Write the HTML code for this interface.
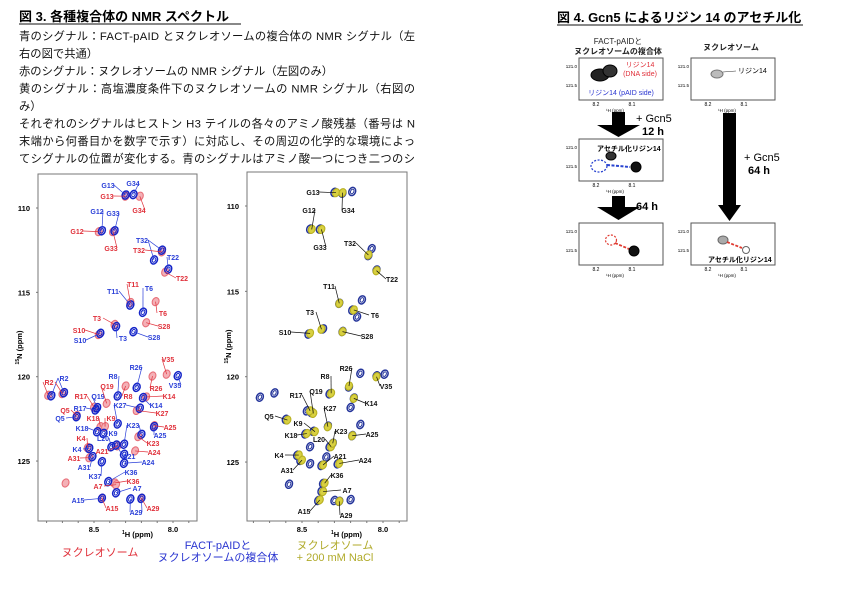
<!DOCTYPE html>
<html><head><meta charset="utf-8">
<style>
html,body{margin:0;padding:0;background:#fff;}
svg{display:block;font-family:"Liberation Sans","Noto Sans CJK JP",sans-serif;}
.body{font-size:11.3px;fill:#111;}
.lb{font-size:7px;font-weight:bold;}
</style></head>
<body>
<svg id="fig" width="845" height="593" viewBox="0 0 845 593">
<g>
<text x="19" y="21" font-size="13" font-weight="bold">図 3. 各種複合体の NMR スペクトル</text>
<line x1="19" y1="24" x2="241" y2="24" stroke="#111" stroke-width="1"/>
<text class="body" x="19" y="40" textLength="396">青のシグナル：FACT-pAID とヌクレオソームの複合体の NMR シグナル（左</text>
<text class="body" x="19" y="57.5">右の図で共通）</text>
<text class="body" x="19" y="75">赤のシグナル：ヌクレオソームの NMR シグナル（左図のみ）</text>
<text class="body" x="19" y="92.5" textLength="396">黄のシグナル：高塩濃度条件下のヌクレオソームの NMR シグナル（右図の</text>
<text class="body" x="19" y="110">み）</text>
<text class="body" x="19" y="127.5" textLength="396">それぞれのシグナルはヒストン H3 テイルの各々のアミノ酸残基（番号は N</text>
<text class="body" x="19" y="145" textLength="396">末端から何番目かを数字で示す）に対応し、その周辺の化学的な環境によっ</text>
<text class="body" x="19" y="162.5" textLength="396">てシグナルの位置が変化する。青のシグナルはアミノ酸一つにつき二つのシ</text>
</g>
<g id="left"></g>
<g id="right"></g>
<g font-size="11" text-anchor="middle">
<text x="100" y="556" fill="#e0303a">ヌクレオソーム</text>
<text x="218" y="549" fill="#2a35d0">FACT-pAIDと</text>
<text x="218" y="561" fill="#2a35d0">ヌクレオソームの複合体</text>
<text x="335" y="549" fill="#b0aa2a">ヌクレオソーム</text>
<text x="335" y="561" fill="#b0aa2a">+ 200 mM NaCl</text>
</g>

<g>
<text x="557" y="22" font-size="13" font-weight="bold">図 4. Gcn5 によるリジン 14 のアセチル化</text>
<line x1="557" y1="25" x2="803" y2="25" stroke="#111" stroke-width="1"/>
<g font-size="8" text-anchor="middle" fill="#222">
<text x="618" y="44">FACT-pAIDと</text>
<text x="618" y="54" font-weight="bold">ヌクレオソームの複合体</text>
<text x="731" y="50" font-weight="bold">ヌクレオソーム</text>
</g>
<g id="boxes"></g>
<g>
<rect x="612" y="112" width="13" height="14" fill="#000"/><polygon points="597,125 640,125 618.5,137" fill="#000"/>
<text x="636" y="122" font-size="11">+ Gcn5</text>
<text x="642" y="135" font-size="11" font-weight="bold">12 h</text>
</g>
<g>
<rect x="612" y="196" width="13" height="12" fill="#000"/><polygon points="597,207 640,207 618.5,220" fill="#000"/>
<text x="636" y="210" font-size="11" font-weight="bold">64 h</text>
</g>
<g>
<rect x="723" y="113" width="13" height="93" fill="#000"/><polygon points="718,205 741,205 729.5,221" fill="#000"/>
<text x="744" y="161" font-size="11">+ Gcn5</text>
<text x="748" y="174" font-size="11" font-weight="bold">64 h</text>
</g>
</g>
</svg>
<script>
// ---------- Data (ppm) ----------
const lbRes=["G13","G34","G12","G33","T32","T32","T22","T11","T6","T3","S28","S10","R2","R2","R26","R8","V35","Q19","K14","K27","K27","Q5","R17","K18","K9","L20","K23","K23","A25","A21","A21","A24","K4","A31","K37","K36","A7","A15","A29","A29"];
const lbH=[8.30,8.25,8.45,8.37,8.07,8.12,8.03,8.27,8.19,8.36,8.25,8.46,8.77,8.69,8.23,8.35,7.97,8.48,8.19,8.21,8.35,8.61,8.49,8.48,8.44,8.39,8.20,8.31,8.12,8.31,8.36,8.31,8.53,8.51,8.45,8.41,8.36,8.45,8.20,8.27];
const lbN=[109.23,109.2,111.35,111.35,112.5,113.08,113.63,115.75,116.18,117.03,117.33,117.43,121.13,120.95,120.63,121.14,119.94,121.84,121.24,121.87,122.8,122.37,121.97,123.26,123.36,124.15,123.42,124.0,122.96,124.6,124.05,125.13,124.25,124.74,125.04,126.22,126.88,127.21,127.21,127.25];
const lrRes=["G13","G34","G12","G33","T32","T22","T11","T6","T3","S28","S10","R2","R2","R26","R8","V35","Q19","K14","K27","Q5","R17","K18","K9","K23","A25","A21","A24","K4","A31","K36","A7","A15","A29","X1"];
const lrH=[8.30,8.21,8.47,8.38,8.07,8.05,8.27,8.11,8.37,8.17,8.47,8.79,8.70,8.13,8.30,8.04,8.42,8.17,8.23,8.61,8.50,8.46,8.43,8.22,8.12,8.35,8.24,8.54,8.53,8.37,8.36,8.45,8.20,8.68];
const lrN=[109.3,109.3,111.4,111.4,112.6,113.8,115.6,115.55,116.9,116.8,117.5,121.1,121.0,119.96,120.55,119.85,121.58,121.2,122.0,122.3,121.8,122.96,122.96,123.55,122.9,124.1,124.4,124.2,124.8,126.3,126.4,127.2,127.2,126.3];
const rbRes=["G13","G34","x","G12","G33","T32","T32","T22","T11","T6","T3","S28","S10","R26","R8","V35","Q19","R17","K14","K27","Q5","K9","K18","L20","K23","A25","K4","A31","A21","A24","K36","A7","A15","A29","x","x","x","x","x","x","x","x","x","x","x","x","x","x"];
const rbH=[8.30,8.25,8.19,8.45,8.39,8.09,8.07,8.04,8.27,8.19,8.37,8.25,8.46,8.21,8.33,8.04,8.44,8.47,8.18,8.34,8.60,8.43,8.48,8.33,8.31,8.19,8.53,8.51,8.38,8.28,8.37,8.38,8.40,8.27,8.67,8.76,8.58,8.14,7.99,8.13,8.16,8.14,8.20,8.45,8.45,8.35,8.20,8.30];
const rbN=[109.2,109.25,109.15,111.35,111.35,112.9,112.5,113.75,115.7,116.1,117.2,117.35,117.5,120.6,121.0,119.95,122.1,122.0,121.25,122.9,122.5,123.2,123.35,124.1,123.9,123.45,124.6,124.9,125.2,125.1,126.25,126.7,127.25,127.3,120.95,121.2,126.3,119.8,119.85,115.5,116.5,122.8,121.8,124.1,125.1,124.7,127.2,127.25];
const ryRes=["G13","G34","G12","G33","T32","T22","T11","T6","T3","S28","S10","R26","R8","V35","Q19","R17","K14","K27","Q5","K9","K18","L20","K23","A25","K4","A31","A21","A24","K36","A7","A15","A29"];
const ryH=[8.29,8.25,8.44,8.38,8.09,8.04,8.27,8.18,8.38,8.25,8.45,8.21,8.32,8.04,8.43,8.45,8.18,8.34,8.59,8.42,8.47,8.32,8.31,8.19,8.52,8.50,8.37,8.27,8.36,8.37,8.39,8.27];
const ryN=[109.22,109.22,111.37,111.37,112.87,113.79,115.7,116.09,117.22,117.36,117.46,120.55,120.97,120.0,122.15,122.0,121.27,122.93,122.54,123.22,123.33,124.1,123.9,123.46,124.59,124.89,125.17,125.08,126.24,126.73,127.22,127.3];
const yTicks=[110,115,120,125];
const xTicks=[8.5,8.0];
// ---------- Axes ----------
const xL=h=>94+(8.5-h)*158, yL=n=>208+(n-110)*16.87;
const xR=h=>302+(8.5-h)*162, yR=n=>206+(n-110)*17.07;
// ---------- Label layout (pixel) ----------
const lbLab={G13:[108,188],G34:[133,186],G12:[97,214],G33:[113,216],T32:[142,243],T22:[173,260],T11:[113,294],T6:[149,291],T3:[123,341],S28:[154,340],S10:[80,343],R2:[64,381],R26:[136,370],R8:[113,379],V35:[175,388],Q19:[98,399],K14:[156,408],K27:[120,408],R17:[80,411],Q5:[60,421],K18:[82,431],K9:[113,436],L20:[103,441],K23:[133,428],A25:[160,438],A21:[129,459],A24:[148,465],K4:[77,452],A31:[84,470],K37:[95,479],K36:[131,475],A7:[137,491],A15:[78,503],A29:[136,515]};
const lrLab={G13:[107,199],G34:[139,213],G12:[77,234],G33:[111,251],T32:[139,253],T22:[182,281],T11:[133,287],T6:[163,316],T3:[97,321],S28:[164,329],S10:[79,333],R2:[49,385],V35:[168,362],R26:[156,391],R8:[128,399],Q19:[107,389],K14:[169,399],K27:[162,416],R17:[81,399],Q5:[65,413],K18:[93,421],K9:[111,421],A25:[170,430],K23:[153,446],A21:[102,454],A24:[154,455],K4:[81,441],A31:[74,461],A7:[98,489],K36:[133,484],A15:[112,511],A29:[153,511]};
const ryLab={G13:[313,195],G34:[348,213],G12:[309,213],G33:[320,250],T32:[350,246],T22:[392,282],T11:[329,289],T6:[375,318],T3:[310,315],S28:[367,339],S10:[285,335],R26:[346,371],R8:[325,379],V35:[386,389],Q19:[316,394],R17:[296,398],K14:[371,406],K27:[330,411],Q5:[269,419],K9:[298,426],K18:[291,438],L20:[319,442],K23:[341,434],A25:[372,437],K4:[279,458],A21:[340,459],A24:[365,463],A31:[287,473],K36:[337,478],A7:[347,493],A15:[304,514],A29:[346,518]};
const NS="http://www.w3.org/2000/svg";
function mk(tag,attrs,parent){const e=document.createElementNS(NS,tag);for(const k in attrs)e.setAttribute(k,attrs[k]);parent.appendChild(e);return e;}
function panel(g,x0,y0,x1,y1,xf,yf,labX){
  const fr=mk('rect',{x:x0,y:y0,width:x1-x0,height:y1-y0,fill:'none',stroke:'#777','stroke-width':1},g);
  
  
  for(let h=8.9;h>=7.8;h-=0.1){const x=xf(h);if(x>x0+2&&x<x1-2)mk('line',{x1:x,y1:y1,x2:x,y2:y1+2,stroke:'#777'},g);}
  yTicks.forEach(t=>{const y=yf(t);mk('line',{x1:x0-2,y1:y,x2:x0,y2:y,stroke:'#777'},g);
    const tx=mk('text',{x:labX,y:y+3,'font-size':7.5,'font-weight':'bold','text-anchor':'end'},g);tx.textContent=t;
    
    });
  xTicks.forEach(t=>{const tx=mk('text',{x:xf(t),y:y1+11,'font-size':7.5,'font-weight':'bold','text-anchor':'middle'},g);tx.textContent=t.toFixed(1);
    
    });
  const xt=mk('text',{x:(xf(8.5)+xf(8.0))/2+4,y:y1+16,'font-size':7.5,'font-weight':'bold','text-anchor':'middle'},g);xt.innerHTML='<tspan font-size="5" dy="-3">1</tspan><tspan dy="3">H (ppm)</tspan>';
  
  
  const yt=mk('text',{x:0,y:0,'font-size':7.5,'font-weight':'bold','text-anchor':'middle',transform:`translate(${labX-8},${(y0+y1)/2}) rotate(-90)`},g);yt.innerHTML='<tspan font-size="5" dy="-3">15</tspan><tspan dy="3">N (ppm)</tspan>';
  
  
}
function peaks(g,res,H,N,xf,yf,col,fill,name){
  res.forEach((r,i)=>{const cx=xf(H[i]),cy=yf(N[i]);
    const e=mk('ellipse',{cx:cx,cy:cy,rx:3.3,ry:4.2,fill:fill,stroke:col,'stroke-width':fill==='none'?1.5:1.1,transform:`rotate(25 ${cx} ${cy})`},g);
    
    
    if(fill==='none'){mk('ellipse',{cx:cx,cy:cy,rx:1.6,ry:2.4,fill:'none',stroke:col,'stroke-width':1,transform:`rotate(25 ${cx} ${cy})`},g);}
  });
}
function labels(g,res,H,N,xf,yf,lab,col,name){
  const done={};
  res.forEach((r,i)=>{const L=lab[r];if(!L)return;
    const px=xf(H[i]),py=yf(N[i]);
    mk('line',{x1:L[0]+(px<L[0]?-6:6),y1:L[1]-3,x2:px,y2:py,stroke:col,'stroke-width':0.7},g);
    if(done[r])return;done[r]=1;
    const t=mk('text',{x:L[0],y:L[1],'text-anchor':'middle',class:'lb',fill:col},g);t.textContent=r;
    
    
  });
}
const gl=document.getElementById('left');
panel(gl,38,174,197,521,xL,yL,30);
peaks(gl,lrRes,lrH,lrN,xL,yL,'#e8707a','#f4b0b6','red-peak');
peaks(gl,lbRes,lbH,lbN,xL,yL,'#1424c8','none','blue-peak');
labels(gl,lbRes,lbH,lbN,xL,yL,lbLab,'#2a3fd8','blue-label');
labels(gl,lrRes,lrH,lrN,xL,yL,lrLab,'#e0303a','red-label');
const gr=document.getElementById('right');
panel(gr,247,172,407,521,xR,yR,239);
peaks(gr,rbRes,rbH,rbN,xR,yR,'#24349a','none','blue-peak');
peaks(gr,ryRes,ryH,ryN,xR,yR,'#b8b020','#d8d040','yellow-peak');
labels(gr,ryRes,ryH,ryN,xR,yR,ryLab,'#111','black-label');
// ---------- Fig 4 boxes ----------
const gb=document.getElementById('boxes');
function box(x,y,name){const g=mk('g',{},gb);
  
  
  mk('rect',{x:x,y:y,width:84,height:42,fill:'#fff',stroke:'#555','stroke-width':1},g);
  [['121.0',y+10],['121.5',y+29]].forEach(a=>{const t=mk('text',{x:x-2,y:a[1],'font-size':4.5,'text-anchor':'end'},g);t.textContent=a[0];});
  const t1=mk('text',{x:x+17,y:y+48,'font-size':5,'text-anchor':'middle'},g);t1.textContent='8.2';
  const t2=mk('text',{x:x+53,y:y+48,'font-size':5,'text-anchor':'middle'},g);t2.textContent='8.1';
  const t3=mk('text',{x:x+36,y:y+54,'font-size':4.5,'text-anchor':'middle'},g);t3.textContent='¹H (ppm)';
  return g;}
let b=box(579,58,'box-complex-0h');
mk('ellipse',{cx:600,cy:75,rx:9,ry:6,fill:'#222',stroke:'#000'},b);mk('ellipse',{cx:610,cy:71,rx:7,ry:6,fill:'#333',stroke:'#000'},b);
let t=mk('text',{x:640,y:67,'font-size':7,fill:'#e0303a','text-anchor':'middle'},b);t.textContent='リジン14';
t=mk('text',{x:640,y:76,'font-size':7,fill:'#e0303a','text-anchor':'middle'},b);t.textContent='(DNA side)';
t=mk('text',{x:621,y:95,'font-size':7,fill:'#2a35d0','text-anchor':'middle'},b);t.textContent='リジン14 (pAID side)';
b=box(691,58,'box-nucleosome-0h');
mk('ellipse',{cx:717,cy:74,rx:6,ry:4,fill:'#bbb',stroke:'#777'},b);mk('line',{x1:723,y1:72,x2:736,y2:71,stroke:'#333','stroke-width':0.6},b);
t=mk('text',{x:738,y:73,'font-size':7},b);t.textContent='リジン14';
b=box(579,139,'box-complex-12h');
mk('ellipse',{cx:599,cy:166,rx:8,ry:6,fill:'none',stroke:'#2a45d0','stroke-width':1.3,'stroke-dasharray':'2 1.5'},b);
mk('line',{x1:607,y1:165,x2:630,y2:167,stroke:'#2a45d0','stroke-width':2,'stroke-dasharray':'3 1.5'},b);
mk('ellipse',{cx:611,cy:156,rx:5,ry:4,fill:'#333',stroke:'#000'},b);mk('ellipse',{cx:636,cy:167,rx:5,ry:5,fill:'#111',stroke:'#000'},b);
t=mk('text',{x:597,y:151,'font-size':7,'font-weight':'bold'},b);t.textContent='アセチル化リジン14';
b=box(579,223,'box-complex-64h');
mk('ellipse',{cx:611,cy:240,rx:5.5,ry:5,fill:'none',stroke:'#e03a30','stroke-width':1.2,'stroke-dasharray':'2 1.5'},b);
mk('line',{x1:615,y1:243,x2:629,y2:249,stroke:'#e03a30','stroke-width':1.8,'stroke-dasharray':'3 1.5'},b);
mk('ellipse',{cx:634,cy:251,rx:5,ry:5,fill:'#111',stroke:'#000'},b);
b=box(691,223,'box-nucleosome-64h');
mk('ellipse',{cx:723,cy:240,rx:5,ry:4,fill:'#aaa',stroke:'#666'},b);
mk('line',{x1:727,y1:242,x2:742,y2:248,stroke:'#e03a30','stroke-width':1.8,'stroke-dasharray':'3 1.5'},b);
mk('ellipse',{cx:746,cy:250,rx:3.5,ry:3.5,fill:'#fff',stroke:'#666'},b);
t=mk('text',{x:708,y:262,'font-size':7,'font-weight':'bold'},b);t.textContent='アセチル化リジン14';
</script>
</body></html>
